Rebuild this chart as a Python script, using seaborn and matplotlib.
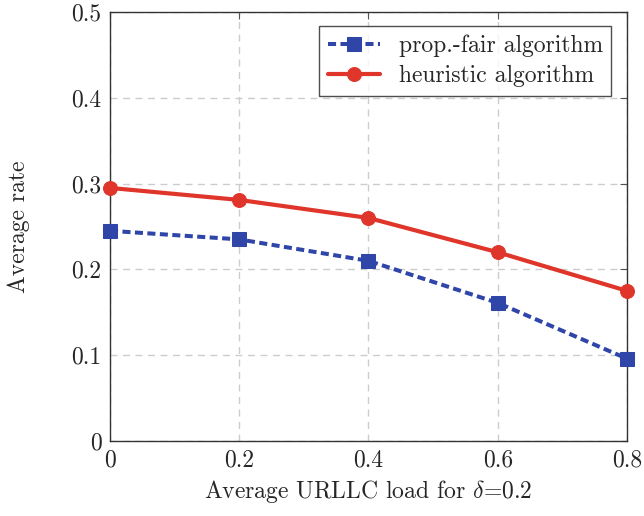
import numpy as np
import pandas as pd
import seaborn as sns
import matplotlib.pyplot as plt

# data
load = [0, 0.2, 0.4, 0.6, 0.8]
prop_fair = [0.245, 0.235, 0.21, 0.161, 0.096]
heuristic = [0.295, 0.281, 0.26, 0.22, 0.175]
x_ticks = [0, 0.2, 0.4, 0.6, 0.8]
y_ticks = [0, 0.1, 0.2, 0.3, 0.4, 0.5]

sns.set_style("white")
plt.rcParams['font.family'] = ['cmr10', 'DejaVu Serif']
plt.rcParams['mathtext.fontset'] = 'cm'
plt.rcParams['axes.formatter.use_mathtext'] = True

fig = plt.figure(figsize=(6.44, 5.16), dpi=100)
ax = fig.add_axes([0.1708, 0.1453, 0.8028, 0.8314])

blue = "#2F46A8"
red = "#E0352A"

df_pf = pd.DataFrame({"load": load, "rate": prop_fair})
df_h = pd.DataFrame({"load": load, "rate": heuristic})

sns.lineplot(data=df_pf, x="load", y="rate", ax=ax, color=blue, lw=2.9,
             linestyle=(0, (2.0, 1.1)), marker="s", markersize=10,
             markeredgecolor=blue, label="prop.-fair algorithm", clip_on=False, zorder=3)
sns.lineplot(data=df_h, x="load", y="rate", ax=ax, color=red, lw=3.0,
             marker="o", markersize=10, markeredgecolor=red,
             label="heuristic algorithm", clip_on=False, zorder=4)

ax.set_xlim(0, 0.8)
ax.set_ylim(0, 0.5)
ax.set_xticks(x_ticks)
ax.set_yticks(y_ticks)
ax.set_xticklabels(["0", "0.2", "0.4", "0.6", "0.8"])
ax.set_yticklabels(["0", "0.1", "0.2", "0.3", "0.4", "0.5"])
ax.tick_params(direction="in", length=5, width=0.8, color="#555555",
               top=True, right=True, labelsize=17, pad=6)
ax.grid(True, color="#cccccc", linestyle=(0, (5, 4)), lw=1)
for s in ax.spines.values():
    s.set_color("#333333")
    s.set_linewidth(1)

ax.set_xlabel(r"Average URLLC load for $\delta$=0.2", fontsize=17, labelpad=5)
ax.set_ylabel("Average rate", fontsize=17, labelpad=30)

leg = ax.legend(loc="upper right", fontsize=17, frameon=True, fancybox=False,
                edgecolor="#222222", handlelength=2.2, borderpad=0.35,
                bbox_to_anchor=(0.969, 0.967), borderaxespad=0,
                labelspacing=0.35)
leg.get_frame().set_linewidth(1)

fig.savefig("out.png", dpi=100)
